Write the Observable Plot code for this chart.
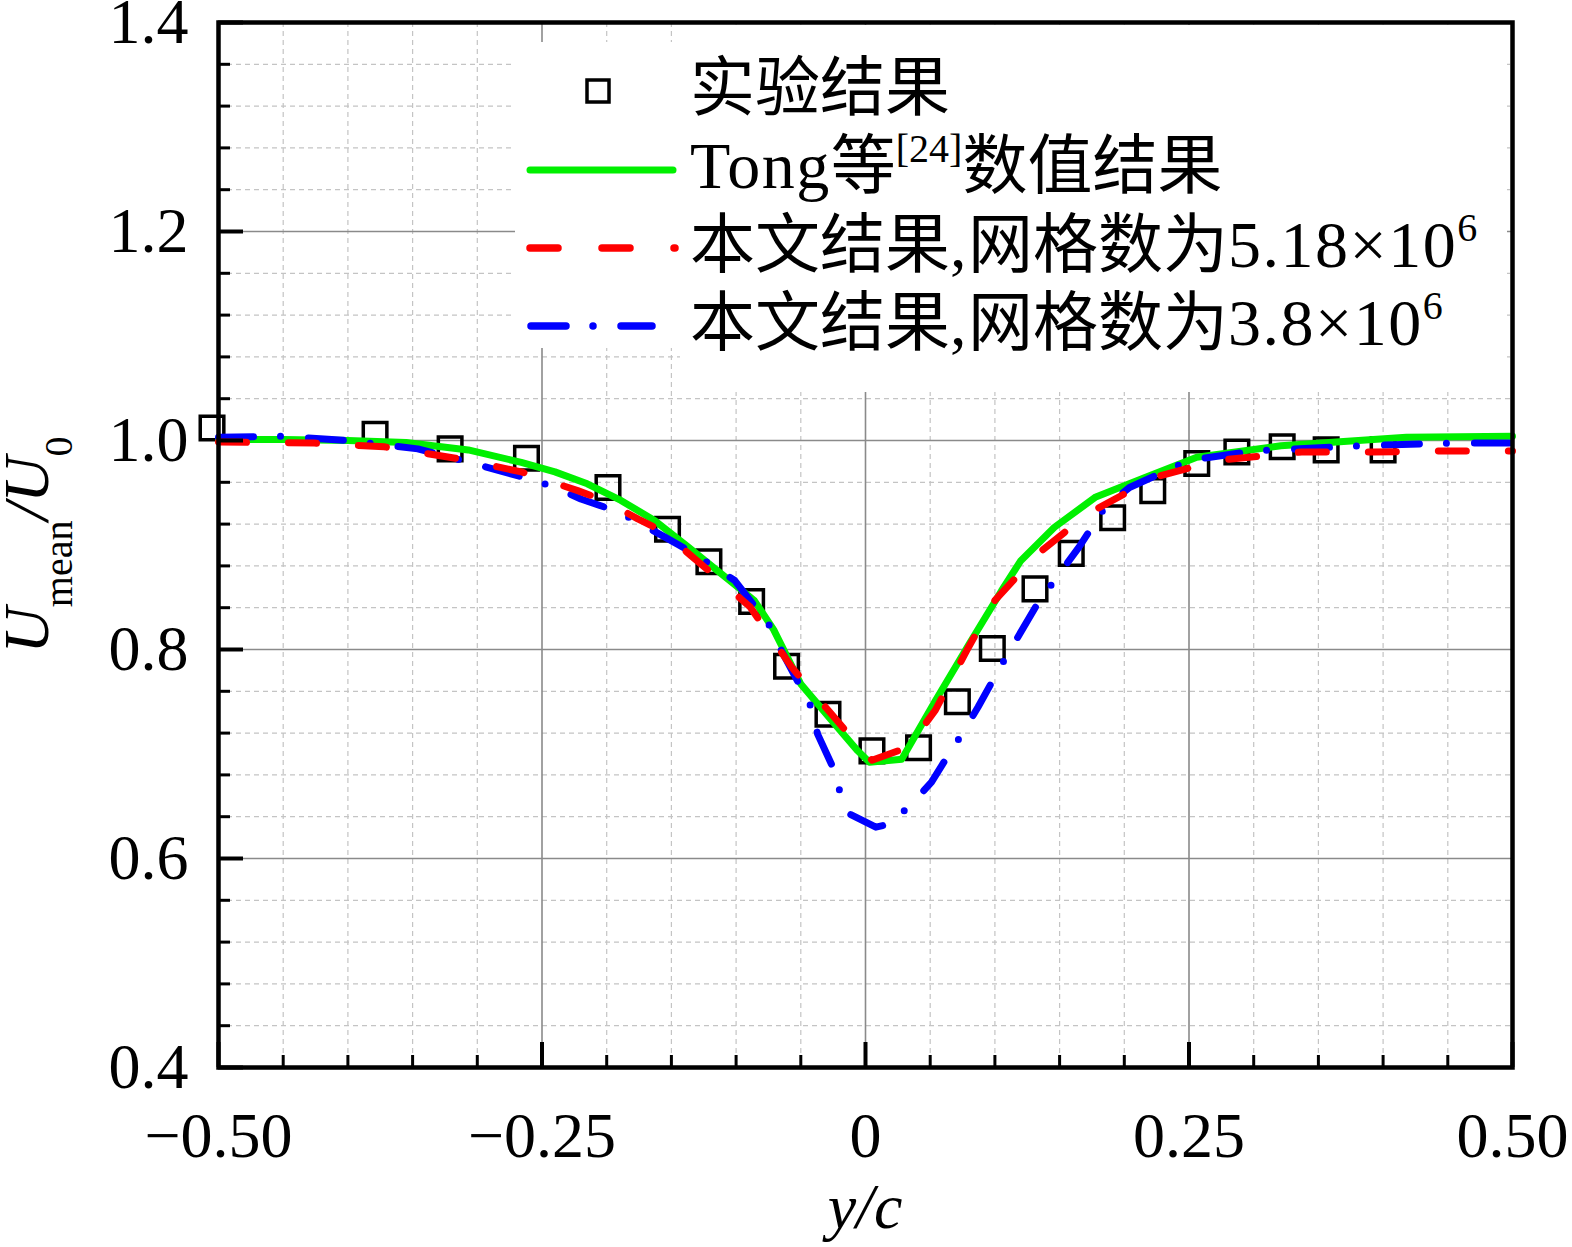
<!DOCTYPE html>
<html>
<head>
<meta charset="utf-8">
<script src="https://cdn.jsdelivr.net/npm/d3@7"></script>
<script src="https://cdn.jsdelivr.net/npm/@observablehq/plot@0.6"></script>
<style>
  html, body { margin: 0; padding: 0; background: #fff; }
  #chart svg { display: block; }
</style>
</head>
<body>
<div id="chart"></div>
<script>
// ---------- data ----------
const expX = [-0.505, -0.379, -0.321, -0.262, -0.199, -0.153, -0.121, -0.088, -0.061, -0.029, 0.005, 0.041, 0.071, 0.098, 0.131, 0.159, 0.191, 0.222, 0.256, 0.287, 0.322, 0.356, 0.400];
const expY = [1.012, 1.006, 0.992, 0.983, 0.955, 0.915, 0.884, 0.846, 0.784, 0.738, 0.703, 0.706, 0.750, 0.801, 0.858, 0.892, 0.926, 0.952, 0.978, 0.989, 0.994, 0.991, 0.991];

const tongX = [-0.5, -0.45, -0.4, -0.355, -0.307, -0.266, -0.24, -0.215, -0.189, -0.163, -0.137, -0.111, -0.086, -0.071, -0.05, -0.024, -0.006, 0.003, 0.028, 0.054, 0.08, 0.105, 0.12, 0.146, 0.178, 0.217, 0.256, 0.321, 0.418, 0.5];
const tongY = [1.001, 1.001, 1.0, 0.998, 0.991, 0.979, 0.970, 0.9586, 0.9426, 0.9235, 0.898, 0.872, 0.847, 0.819, 0.767, 0.729, 0.703, 0.692, 0.695, 0.751, 0.805, 0.856, 0.885, 0.917, 0.946, 0.965, 0.984, 0.995, 1.003, 1.004];

const fineX = [-0.5, -0.426, -0.372, -0.314, -0.266, -0.2224, -0.2017, -0.176, -0.158, -0.135, -0.117, -0.089, -0.057, -0.029, -0.013, 0.005, 0.033, 0.054, 0.0795, 0.1, 0.133, 0.172, 0.224, 0.272, 0.337, 0.392, 0.447, 0.5];
const fineY = [0.9985, 0.9975, 0.994, 0.9825, 0.970, 0.952, 0.9426, 0.925, 0.914, 0.890, 0.871, 0.8405, 0.783, 0.742, 0.719, 0.694, 0.7065, 0.742, 0.802, 0.847, 0.8915, 0.930, 0.965, 0.981, 0.989, 0.989, 0.990, 0.990];

const coarseX = [-0.5, -0.45, -0.40, -0.346, -0.30, -0.261, -0.2405, -0.22, -0.1915, -0.176, -0.155, -0.137, -0.118, -0.101, -0.073, -0.065, -0.042, -0.037, -0.024, -0.019, -0.013, 0.008, 0.019, 0.037, 0.051, 0.0615, 0.077, 0.087, 0.104, 0.133, 0.165, 0.185, 0.204, 0.25, 0.30, 0.385, 0.45, 0.5];
const coarseY = [1.003, 1.004, 1.0, 0.992, 0.977, 0.9635, 0.9555, 0.944, 0.932, 0.922, 0.9075, 0.895, 0.880, 0.866, 0.821, 0.799, 0.745, 0.719, 0.684, 0.660, 0.643, 0.630, 0.633, 0.654, 0.673, 0.694, 0.724, 0.745, 0.783, 0.844, 0.898, 0.936, 0.955, 0.981, 0.990, 0.995, 0.9975, 0.9975];

const xMajor = [-0.5, -0.25, 0, 0.25, 0.5];
const xTickLabels = ["−0.50", "−0.25", "0", "0.25", "0.50"];
const xMinor = [-0.45, -0.4, -0.35, -0.3, -0.2, -0.15, -0.1, -0.05, 0.05, 0.1, 0.15, 0.2, 0.3, 0.35, 0.4, 0.45];
const yMajor = [0.4, 0.6, 0.8, 1.0, 1.2, 1.4];
const yTickLabels = ["0.4", "0.6", "0.8", "1.0", "1.2", "1.4"];
const yMinor = [0.44, 0.48, 0.52, 0.56, 0.64, 0.68, 0.72, 0.76, 0.84, 0.88, 0.92, 0.96, 1.04, 1.08, 1.12, 1.16, 1.24, 1.28, 1.32, 1.36];

// legend: main text, superscript, text after superscript
const legendLabels = ["实验结果", "Tong等", "本文结果,网格数为5.18×10", "本文结果,网格数为3.8×10"];
const legendSup = ["", "[24]", "6", "6"];
const legendAfter = ["", "数值结果", "", ""];

// ---------- layout ----------
const W = 1572, H = 1247;
const mL = 218, mR = 60, mT = 22, mB = 180;
const innerW = W - mL - mR, innerH = H - mT - mB;
const FONT = "'Liberation Serif', 'Times New Roman', 'Noto Sans CJK SC', serif";
const LATIN = "'Liberation Serif', 'Times New Roman', serif";
const CJK = "'Noto Sans CJK SC', 'Noto Sans CJK JP', sans-serif";

const pts = (xs, ys) => xs.map((x, i) => ({x, y: ys[i]}));
const expData = pts(expX, expY);
const tongData = pts(tongX, tongY);
const fineData = pts(fineX, fineY);
const coarseData = pts(coarseX, coarseY);

const GREEN = "#00f000", RED = "#ff0000", BLUE = "#0000ff";
const RED_DASH = "28 42", BLUE_DASH = "35 27 0 28";

const svg = Plot.plot({
  width: W, height: H,
  marginLeft: mL, marginRight: mR, marginTop: mT, marginBottom: mB,
  x: {domain: [-0.5, 0.5]},
  y: {domain: [0.4, 1.4]},
  style: {fontFamily: FONT, fontSize: "64px", color: "#000", background: "#fff", overflow: "visible"},
  marks: [
    // grid
    Plot.ruleX(xMinor, {x: d => d, stroke: "#c4c4c4", strokeWidth: 1.2, strokeDasharray: "5 4"}),
    Plot.ruleY(yMinor, {y: d => d, stroke: "#c4c4c4", strokeWidth: 1.2, strokeDasharray: "5 4"}),
    Plot.ruleX(xMajor.slice(1, -1), {x: d => d, stroke: "#8a8a8a", strokeWidth: 1.6}),
    Plot.ruleY(yMajor.slice(1, -1), {y: d => d, stroke: "#8a8a8a", strokeWidth: 1.6}),
    // data
    Plot.dot(expData, {x: "x", y: "y", symbol: "square", r: 13.3, fill: "none", stroke: "#000", strokeWidth: 3.5}),
    Plot.line(tongData, {x: "x", y: "y", stroke: GREEN, strokeWidth: 7, strokeLinejoin: "round"}),
    Plot.line(coarseData, {x: "x", y: "y", stroke: BLUE, strokeWidth: 7, strokeDasharray: BLUE_DASH, strokeLinecap: "round", strokeLinejoin: "round"}),
    Plot.line(fineData, {x: "x", y: "y", stroke: RED, strokeWidth: 7, strokeDasharray: RED_DASH, strokeLinecap: "round", strokeLinejoin: "round"}),
    // inward ticks
    Plot.tickX(xMajor, {x: d => d, insetTop: innerH - 25, stroke: "#000", strokeWidth: 4}),
    Plot.tickX(xMinor, {x: d => d, insetTop: innerH - 12, stroke: "#000", strokeWidth: 3}),
    Plot.tickY(yMajor, {y: d => d, insetRight: innerW - 25, stroke: "#000", strokeWidth: 4}),
    Plot.tickY(yMinor, {y: d => d, insetRight: innerW - 12, stroke: "#000", strokeWidth: 3}),
    Plot.frame({stroke: "#000", strokeWidth: 4.5}),
    // tick labels
    Plot.axisX(xMajor, {tickSize: 0, tickPadding: 44, tickFormat: d => xTickLabels[xMajor.indexOf(d)], label: null, fontSize: 64}),
    Plot.axisY(yMajor, {tickSize: 0, tickPadding: 30, tickFormat: d => yTickLabels[yMajor.indexOf(d)], label: null, fontSize: 64})
  ]
});

document.getElementById("chart").appendChild(svg);

const s = d3.select(svg);
const xs = svg.scale("x");

// ---------- legend ----------
const lg = s.append("g").attr("fill", "#000").attr("text-anchor", "start");
lg.append("rect").attr("x", 515).attr("y", 42).attr("width", 992).attr("height", 306).attr("fill", "#fff");
lg.append("rect").attr("x", 680).attr("y", 25).attr("width", 827).attr("height", 367).attr("fill", "#fff");

const rowY = [91, 170, 248, 326];
const baseY = [110, 188, 267, 345];

// swatches
lg.append("rect").attr("x", 587).attr("y", rowY[0] - 11).attr("width", 22).attr("height", 22)
  .attr("fill", "#fff").attr("stroke", "#000").attr("stroke-width", 3.5);
lg.append("line").attr("x1", 530).attr("x2", 673).attr("y1", rowY[1]).attr("y2", rowY[1])
  .attr("stroke", GREEN).attr("stroke-width", 7).attr("stroke-linecap", "round");
lg.append("line").attr("x1", 530).attr("x2", 675).attr("y1", rowY[2]).attr("y2", rowY[2])
  .attr("stroke", RED).attr("stroke-width", 7.5).attr("stroke-linecap", "round").attr("stroke-dasharray", "28 44");
lg.append("line").attr("x1", 531).attr("x2", 652).attr("y1", rowY[3]).attr("y2", rowY[3])
  .attr("stroke", BLUE).attr("stroke-width", 7.5).attr("stroke-linecap", "round").attr("stroke-dasharray", BLUE_DASH);

// texts: split into CJK and Latin runs so each run gets its own font
function addRuns(textSel, str) {
  const runs = str.match(/[\u3000-\u9fff\uff00-\uffef]+|[^\u3000-\u9fff\uff00-\uffef]+/g) || [];
  for (const r of runs) {
    const isCJK = /[\u3000-\u9fff\uff00-\uffef]/.test(r);
    textSel.append("tspan")
      .attr("font-family", isCJK ? CJK : LATIN)
      .attr("font-size", isCJK ? 65 : 66)
      .attr("letter-spacing", isCJK ? 0 : 1.5)
      .text(r);
  }
}
const tx = 690;
legendLabels.forEach((lab, k) => {
  const t = lg.append("text").attr("x", tx).attr("y", baseY[k]).attr("text-anchor", "start");
  addRuns(t, lab);
  if (legendSup[k]) {
    t.append("tspan").attr("font-family", LATIN).attr("font-size", 40).attr("dy", -26).text(legendSup[k]);
    if (legendAfter[k]) {
      const after = t.append("tspan").attr("dy", 26);
      // dy applies to the first run only
      const runs = legendAfter[k];
      after.attr("font-family", CJK).attr("font-size", 65).text(runs);
    }
  }
});

// ---------- axis titles ----------
s.append("text")
  .attr("x", xs.apply(0)).attr("y", 1228)
  .attr("text-anchor", "middle").attr("font-family", LATIN).attr("font-size", 64).attr("font-style", "italic")
  .text("y/c");

{
  const t = s.append("text")
    .attr("transform", `translate(48, 545) rotate(-90)`)
    .attr("text-anchor", "middle").attr("font-family", LATIN).attr("font-size", 64);
  t.append("tspan").attr("font-style", "italic").text("U");
  t.append("tspan").attr("font-size", 40).attr("dy", 24).text("mean");
  t.append("tspan").attr("font-style", "italic").attr("dy", -24).text("/U");
  t.append("tspan").attr("font-size", 40).attr("dy", 24).text("0");
}
</script>
</body>
</html>
